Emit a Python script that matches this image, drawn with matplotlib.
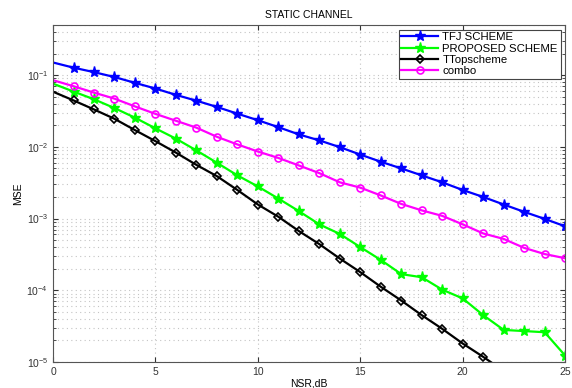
import numpy as np
import matplotlib.pyplot as plt
from matplotlib.ticker import LogLocator, NullFormatter

# Data
# ****************************
nsr = list(range(26))
tfj = [0.150, 0.127, 0.110, 0.094, 0.078, 0.065, 0.053, 0.044, 0.036, 0.029,
       0.0235, 0.0188, 0.0149, 0.0123, 0.0099, 0.0078, 0.0062, 0.0050, 0.0040,
       0.0032, 0.0025, 0.0020, 0.00157, 0.00124, 0.00099, 0.00078]
proposed = [0.076, 0.059, 0.046, 0.0347, 0.0255, 0.0181, 0.0130, 0.0089, 0.0060,
            0.0040, 0.0028, 0.0019, 0.00127, 0.00083, 0.00061, 0.00040, 0.000265,
            0.000168, 0.000152, 0.000102, 7.7e-5, 4.5e-5, 2.8e-5, 2.7e-5, 2.6e-5,
            1.23e-5]
ttop = [0.0587, 0.0444, 0.0332, 0.0246, 0.0171, 0.0120, 0.0083, 0.0056, 0.0039,
        0.0025, 0.00157, 0.00106, 0.00067, 0.00044, 0.000277, 0.000179, 0.000112,
        7.2e-5, 4.5e-5, 2.9e-5, 1.81e-5, 1.18e-5, 7.5e-6, 4.8e-6, 3.1e-6, 2.0e-6]
combo = [0.085, 0.070, 0.057, 0.047, 0.0366, 0.0288, 0.0231, 0.0185, 0.0138,
         0.0108, 0.0086, 0.0070, 0.0055, 0.0043, 0.0032, 0.0027, 0.0021, 0.0016,
         0.0013, 0.00109, 0.00083, 0.00062, 0.00052, 0.00039, 0.00032, 0.00028]

plt.rcParams['font.family'] = ['Liberation Sans', 'DejaVu Sans']
plt.rcParams['font.size'] = 7

fig = plt.figure(figsize=(5.72, 3.88), dpi=100)
ax = fig.add_axes([0.0927, 0.067, 0.8953, 0.8686])

mk = slice(1, None)
ax.semilogy(nsr, tfj, color='#0000ff', lw=1.6, marker='*', ms=8,
            markevery=mk, label='TFJ SCHEME')
ax.semilogy(nsr, proposed, color='#00ff00', lw=1.6, marker='*', ms=8,
            markevery=mk, label='PROPOSED SCHEME')
ax.semilogy(nsr, ttop, color='black', lw=1.6, marker='D', ms=4.5, mfc='none',
            mew=1.2, markevery=mk, label='TTopscheme')
ax.semilogy(nsr, combo, color='#ff00ff', lw=1.6, marker='o', ms=5, mfc='none',
            mew=1.2, markevery=mk, label='combo')

ax.set_xlim(0, 25)
ax.set_ylim(1e-5, 0.5)
ax.set_xticks([0, 5, 10, 15, 20, 25])
ax.yaxis.set_major_locator(LogLocator(base=10, numticks=10))
ax.yaxis.set_minor_locator(LogLocator(base=10, subs=np.arange(2, 10), numticks=10))
ax.yaxis.set_minor_formatter(NullFormatter())

ax.grid(True, which='major', color='#c4c4c4', ls=(0, (1, 3)), lw=0.8)
ax.grid(True, which='minor', axis='y', color='#c4c4c4', ls=(0, (1, 3)), lw=0.8)
ax.tick_params(which='both', direction='in', top=True, right=True, colors='#333333')
ax.tick_params(axis='both', labelsize=7.5)
for s in ax.spines.values():
    s.set_color('#555555')

ax.set_title('STATIC CHANNEL', fontsize=7.5, pad=5)
ax.set_xlabel('NSR,dB', fontsize=7.5, labelpad=1)
ax.set_ylabel('MSE', fontsize=7.5, labelpad=2)

leg = ax.legend(loc='upper right', fancybox=False, framealpha=1, edgecolor='#444444',
                borderpad=0.25, labelspacing=0.1, handlelength=3.2, handletextpad=0.4,
                borderaxespad=0.4, fontsize=8.2)
leg.get_frame().set_linewidth(0.8)

fig.savefig('out.png', dpi=100)
